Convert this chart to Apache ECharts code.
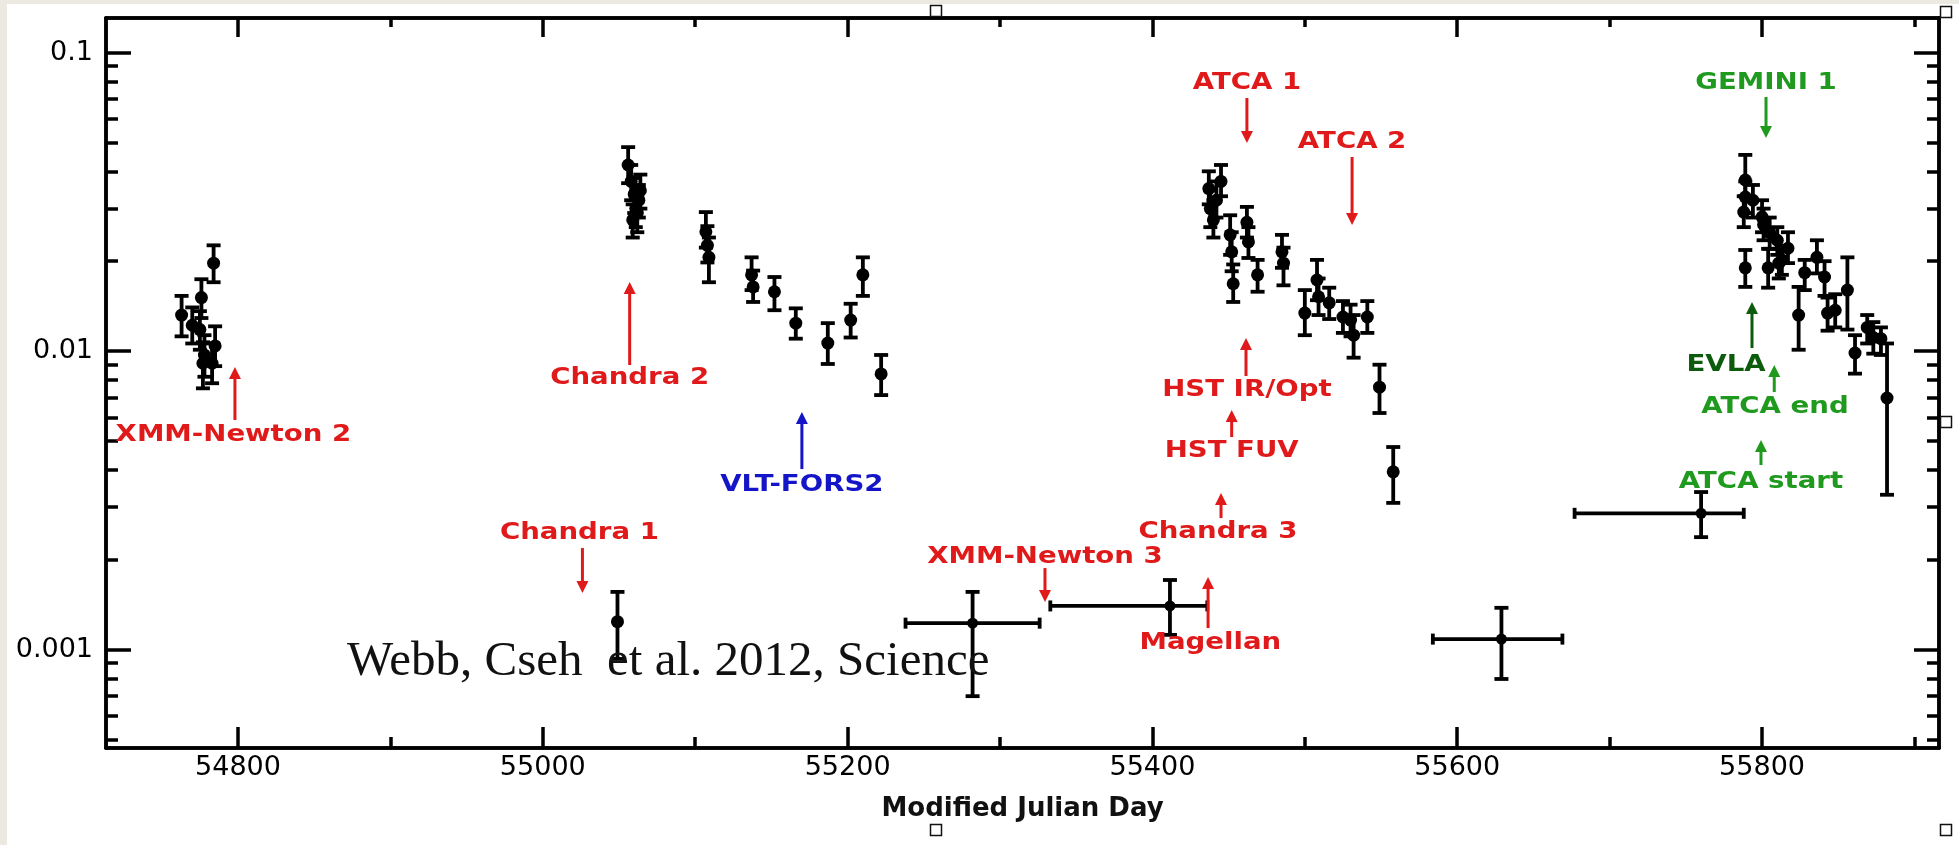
<!DOCTYPE html>
<html>
<head>
<meta charset="utf-8">
<script src="https://cdn.jsdelivr.net/npm/echarts@6/dist/echarts.min.js"></script>
<style>
  html, body { margin: 0; padding: 0; background: #ffffff; }
  #chart { width: 1959px; height: 845px; }
</style>
</head>
<body>
<div id="chart"></div>
<script>
// HLX-1 light curve: X-ray flux against Modified Julian Day.

// Individual observations (day, flux, lower and upper error bounds)
const obsDay = [
  54763, 54770, 54775, 54776, 54778, 54777, 54783, 54785, 54784,
  55049,
  55056, 55058, 55060, 55061, 55062, 55059, 55063, 55064,
  55107, 55108, 55109, 55137, 55138, 55152, 55166, 55187, 55202, 55210, 55222,
  55437, 55438, 55440, 55442, 55445, 55451, 55452, 55453, 55462, 55463, 55469,
  55485, 55486, 55500, 55508, 55509, 55516, 55525, 55530, 55532, 55541, 55549, 55558,
  55789, 55789, 55788, 55789, 55794, 55800, 55801, 55804, 55805, 55810, 55811, 55813,
  55817, 55824, 55828, 55836, 55841, 55843, 55848, 55856, 55861, 55869, 55873, 55878, 55882
];
const obsFlux = [
  0.0132, 0.0122, 0.0118, 0.0151, 0.0097, 0.0091, 0.0091, 0.0104, 0.0197,
  0.00124,
  0.0420, 0.0370, 0.0335, 0.0300, 0.0290, 0.0275, 0.0320, 0.0345,
  0.0251, 0.0226, 0.0206, 0.0180, 0.0164, 0.0158, 0.0124, 0.01063, 0.0127, 0.0180, 0.00838,
  0.0350, 0.0300, 0.0275, 0.0320, 0.0370, 0.0245, 0.0215, 0.0168, 0.0270, 0.0232, 0.0180,
  0.0215, 0.0197, 0.0134, 0.0173, 0.0152, 0.0145, 0.0130, 0.0127, 0.0113, 0.0130, 0.00757, 0.00394,
  0.0374, 0.0328, 0.0292, 0.0190, 0.0320, 0.0281, 0.0265, 0.0190, 0.0249, 0.0235, 0.0197, 0.0202,
  0.0221, 0.0132, 0.0183, 0.0206, 0.0177, 0.0134, 0.0137, 0.0160, 0.00985, 0.0120, 0.0111, 0.0110, 0.00696
];
const obsFluxLow = [
  0.0112, 0.0106, 0.0101, 0.0129, 0.0082, 0.0075, 0.0078, 0.0089, 0.0170,
  0.00093,
  0.0365, 0.0320, 0.0290, 0.0260, 0.0250, 0.0240, 0.0280, 0.0300,
  0.0222, 0.0198, 0.0170, 0.0160, 0.0146, 0.0137, 0.0110, 0.00905, 0.0111, 0.0153, 0.00712,
  0.0310, 0.0260, 0.0240, 0.0280, 0.0330, 0.0210, 0.0185, 0.0146, 0.0240, 0.0205, 0.0158,
  0.0190, 0.0166, 0.0113, 0.0148, 0.0132, 0.0128, 0.0115, 0.0112, 0.0095, 0.0115, 0.0062, 0.0031,
  0.0330, 0.0290, 0.0260, 0.0164, 0.0280, 0.0250, 0.0235, 0.0163, 0.0220, 0.0210, 0.0175, 0.0180,
  0.0197, 0.0101, 0.0160, 0.0182, 0.0153, 0.0117, 0.0120, 0.0118, 0.0084, 0.0106, 0.0098, 0.0097, 0.0033
];
const obsFluxHigh = [
  0.0153, 0.0140, 0.0136, 0.0174, 0.0113, 0.0107, 0.0106, 0.0121, 0.0226,
  0.00156,
  0.0482, 0.0420, 0.0380, 0.0340, 0.0330, 0.0310, 0.0360, 0.0390,
  0.0292, 0.0262, 0.0240, 0.0206, 0.0186, 0.0177, 0.0139, 0.0124, 0.0144, 0.0206, 0.0097,
  0.0400, 0.0345, 0.0320, 0.0370, 0.0420, 0.0285, 0.0250, 0.0195, 0.0304, 0.0260, 0.0202,
  0.0245, 0.0222, 0.0160, 0.0202, 0.0175, 0.0163, 0.0147, 0.0143, 0.0132, 0.0147, 0.0090, 0.00477,
  0.0454, 0.0370, 0.0330, 0.0218, 0.0360, 0.0320, 0.0300, 0.0220, 0.0280, 0.0260, 0.0220, 0.0225,
  0.0250, 0.0164, 0.0202, 0.0235, 0.0200, 0.0151, 0.0155, 0.0206, 0.0113, 0.0132, 0.0125, 0.0120, 0.0106
];

// Stacked observations spanning several days
const stackDay      = [55282, 55411.5, 55629, 55760];
const stackDayStart = [55238, 55333, 55584, 55677];
const stackDayEnd   = [55326, 55436, 55669, 55788];
const stackFlux     = [0.001226, 0.00140, 0.001084, 0.00286];
const stackFluxLow  = [0.000698, 0.00112, 0.000797, 0.00238];
const stackFluxHigh = [0.00156, 0.00171, 0.00138, 0.00337];

// Follow-up campaigns marked with arrows
const eventNames = [
  'XMM-Newton 2', 'Chandra 1', 'Chandra 2', 'VLT-FORS2', 'XMM-Newton 3', 'Magellan',
  'Chandra 3', 'HST FUV', 'HST IR/Opt', 'ATCA 1', 'ATCA 2',
  'GEMINI 1', 'EVLA', 'ATCA end', 'ATCA start'
];
const eventKind = [
  'xray', 'xray', 'xray', 'optical', 'xray', 'xray',
  'xray', 'xray', 'xray', 'xray', 'xray',
  'late', 'vla', 'late', 'late'
];
const eventDay = [
  54798, 55026, 55057, 55170, 55329.5, 55436.5,
  55445, 55452, 55461.4, 55462, 55531,
  55802.6, 55793.4, 55808, 55799.3
];
const eventTailFlux = [
  0.005873, 0.002188, 0.008977, 0.004024, 0.001875, 0.001180,
  0.002757, 0.005151, 0.008246, 0.07041, 0.04466,
  0.07095, 0.01023, 0.007288, 0.004150
];
const eventTipFlux = [
  0.008841, 0.001546, 0.01703, 0.006245, 0.001442, 0.001749,
  0.003344, 0.006342, 0.01105, 0.04973, 0.02643,
  0.05169, 0.01460, 0.008977, 0.005031
];
const eventLabelDay = [
  54797, 55024, 55057, 55170, 55329.5, 55438,
  55443, 55452, 55462, 55462, 55531,
  55802.6, 55776.4, 55808.5, 55799.3
];
const eventLabelFlux = [
  0.005232, 0.002458, 0.008120, 0.003557, 0.002041, 0.001051,
  0.002475, 0.004624, 0.007401, 0.07903, 0.05013,
  0.07903, 0.008977, 0.006494, 0.003640
];

// Axis ticks
const dayLabels = [54800, 55000, 55200, 55400, 55600, 55800];
const dayMinorTicks = [54900, 55100, 55300, 55500, 55700, 55900];
const fluxLabels = [0.001, 0.01, 0.1];

const DAY_MIN = 54713.4, DAY_MAX = 55916.1;
const FLUX_MIN = 0.000468, FLUX_MAX = 0.1305;

const lg = Math.log10;
const Y_MIN = lg(FLUX_MIN), Y_MAX = lg(FLUX_MAX);

const fluxMajorLogs = fluxLabels.map(lg);
const fluxMinorLogs = [];
for (let e = -4; e <= -1; e++) {
  for (let m = 2; m <= 9; m++) {
    const v = lg(m * Math.pow(10, e));
    if (v > Y_MIN && v < Y_MAX) fluxMinorLogs.push(v);
  }
}

const kindColor = { xray: '#e01a1a', optical: '#1414c8', late: '#1f9a1f', vla: '#0d5c0d' };

const obsRows = obsDay.map((d, i) => [d, lg(obsFlux[i]), lg(obsFluxLow[i]), lg(obsFluxHigh[i])]);
const stackRows = stackDay.map((d, i) => [d, lg(stackFlux[i]), lg(stackFluxLow[i]), lg(stackFluxHigh[i])]);
const stackSpanRows = stackDay.map((d, i) => [d, lg(stackFlux[i]), stackDayStart[i], stackDayEnd[i]]);
const eventRows = eventNames.map((n, i) => [eventDay[i], lg(eventTailFlux[i]), lg(eventTipFlux[i]),
  eventLabelDay[i], lg(eventLabelFlux[i]), i]);

const BAR = { stroke: '#000', lineWidth: 3.8 };

function verticalErrorBar(params, api) {
  const d = api.value(0);
  const top = api.coord([d, api.value(3)]);
  const bot = api.coord([d, api.value(2)]);
  const cap = 7;
  return {
    type: 'group',
    children: [
      { type: 'line', shape: { x1: top[0], y1: top[1], x2: bot[0], y2: bot[1] }, style: BAR },
      { type: 'line', shape: { x1: top[0] - cap, y1: top[1], x2: top[0] + cap, y2: top[1] }, style: BAR },
      { type: 'line', shape: { x1: bot[0] - cap, y1: bot[1], x2: bot[0] + cap, y2: bot[1] }, style: BAR }
    ]
  };
}

function horizontalErrorBar(params, api) {
  const y = api.value(1);
  const left = api.coord([api.value(2), y]);
  const right = api.coord([api.value(3), y]);
  const cap = 5.5;
  return {
    type: 'group',
    children: [
      { type: 'line', shape: { x1: left[0], y1: left[1], x2: right[0], y2: right[1] }, style: BAR },
      { type: 'line', shape: { x1: left[0], y1: left[1] - cap, x2: left[0], y2: left[1] + cap }, style: BAR },
      { type: 'line', shape: { x1: right[0], y1: right[1] - cap, x2: right[0], y2: right[1] + cap }, style: BAR }
    ]
  };
}

function eventArrow(params, api) {
  const i = api.value(5);
  const color = kindColor[eventKind[i]];
  const tail = api.coord([api.value(0), api.value(1)]);
  const tip = api.coord([api.value(0), api.value(2)]);
  const lab = api.coord([api.value(3), api.value(4)]);
  const dir = tip[1] > tail[1] ? 1 : -1;
  const headLen = 12, headHalf = 6;
  return {
    type: 'group',
    children: [
      { type: 'line',
        shape: { x1: tail[0], y1: tail[1], x2: tip[0], y2: tip[1] - dir * headLen * 0.7 },
        style: { stroke: color, lineWidth: 3 } },
      { type: 'polygon',
        shape: { points: [[tip[0], tip[1]], [tip[0] - headHalf, tip[1] - dir * headLen], [tip[0] + headHalf, tip[1] - dir * headLen]] },
        style: { fill: color } },
      { type: 'text', x: lab[0], y: lab[1], scaleX: 1.2,
        style: { text: eventNames[i], x: 0, y: 0, fill: color,
                 font: 'bold 23px "DejaVu Sans"', align: 'center', verticalAlign: 'middle' } }
    ]
  };
}

const AXIS_LINE = { lineStyle: { color: '#000', width: 3.5 } };
const TICK_STYLE = { color: '#000', width: 3.5 };
const LABEL_FONT = { fontFamily: '"DejaVu Sans"', fontSize: 27, color: '#000' };

function xAxisDef(position, ticks, length, withLabels) {
  const ax = {
    type: 'value', gridIndex: 0, position: position, min: DAY_MIN, max: DAY_MAX,
    axisLine: AXIS_LINE,
    axisTick: { show: true, inside: true, length: length, customValues: ticks, lineStyle: TICK_STYLE },
    axisLabel: { show: false },
    splitLine: { show: false }, minorTick: { show: false }
  };
  if (withLabels) {
    ax.axisLabel = Object.assign({ show: true, customValues: dayLabels, margin: 6,
      formatter: v => String(v) }, LABEL_FONT);
    ax.name = 'Modified Julian Day';
    ax.nameLocation = 'middle';
    ax.nameGap = 48;
    ax.nameTextStyle = { fontFamily: '"DejaVu Sans"', fontWeight: 'bold', fontSize: 26, color: '#111' };
  }
  return ax;
}

function yAxisDef(position, ticks, length, withLabels) {
  const ax = {
    type: 'value', gridIndex: 0, position: position, min: Y_MIN, max: Y_MAX,
    axisLine: AXIS_LINE,
    axisTick: { show: true, inside: true, length: length, customValues: ticks, lineStyle: TICK_STYLE },
    axisLabel: { show: false },
    splitLine: { show: false }, minorTick: { show: false }
  };
  if (withLabels) {
    ax.axisLabel = Object.assign({ show: true, customValues: ticks, margin: 13,
      formatter: v => String(Number(Math.pow(10, v).toPrecision(1))) }, LABEL_FONT);
  }
  return ax;
}

const chart = echarts.init(document.getElementById('chart'), null, { renderer: 'canvas' });

chart.setOption({
  backgroundColor: '#ffffff',
  animation: false,
  grid: { left: 106, right: 20, top: 18, bottom: 97, containLabel: false, outerBoundsMode: 'none' },
  xAxis: [
    xAxisDef('bottom', dayLabels, 21, true),
    xAxisDef('bottom', dayMinorTicks, 11, false),
    xAxisDef('top', dayLabels, 19, false),
    xAxisDef('top', dayMinorTicks, 9, false)
  ],
  yAxis: [
    yAxisDef('left', fluxMajorLogs, 25, true),
    yAxisDef('left', fluxMinorLogs, 12, false),
    yAxisDef('right', fluxMajorLogs, 25, false),
    yAxisDef('right', fluxMinorLogs, 12, false)
  ],
  graphic: [
    { type: 'rect', left: 0, top: 0, shape: { width: 7, height: 845 }, style: { fill: '#ece9e1' }, z: -10 },
    { type: 'rect', left: 0, top: 0, shape: { width: 1959, height: 4 }, style: { fill: '#ece9e1' }, z: -10 },
    { type: 'text', left: 347, top: 638,
      style: { text: 'Webb, Cseh  et al. 2012, Science', fill: '#111',
               font: '49px "Liberation Serif"' }, z: 50 },
    { type: 'rect', shape: { x: 930.5, y: 5.5, width: 11, height: 11 }, style: { fill: '#fff', stroke: '#111', lineWidth: 1.5 }, z: 60 },
    { type: 'rect', shape: { x: 1940.5, y: 6.5, width: 11, height: 11 }, style: { fill: '#fff', stroke: '#111', lineWidth: 1.5 }, z: 60 },
    { type: 'rect', shape: { x: 1940.5, y: 416.5, width: 11, height: 11 }, style: { fill: '#fff', stroke: '#111', lineWidth: 1.5 }, z: 60 },
    { type: 'rect', shape: { x: 930.5, y: 824.5, width: 11, height: 11 }, style: { fill: '#fff', stroke: '#111', lineWidth: 1.5 }, z: 60 },
    { type: 'rect', shape: { x: 1940.5, y: 824.5, width: 11, height: 11 }, style: { fill: '#fff', stroke: '#111', lineWidth: 1.5 }, z: 60 }
  ],
  series: [
    { name: 'error', type: 'custom', xAxisIndex: 0, yAxisIndex: 0, silent: true,
      data: obsRows.concat(stackRows), encode: { x: 0, y: 1 }, renderItem: verticalErrorBar, z: 3 },
    { name: 'span', type: 'custom', xAxisIndex: 0, yAxisIndex: 0, silent: true,
      data: stackSpanRows, encode: { x: 0, y: 1 }, renderItem: horizontalErrorBar, z: 3 },
    { name: 'flux', type: 'scatter', xAxisIndex: 0, yAxisIndex: 0, silent: true,
      data: obsRows.map(r => [r[0], r[1]]), symbol: 'circle', symbolSize: 13,
      itemStyle: { color: '#000', opacity: 1 }, z: 4 },
    { name: 'stacked', type: 'scatter', xAxisIndex: 0, yAxisIndex: 0, silent: true,
      data: stackRows.map(r => [r[0], r[1]]), symbol: 'circle', symbolSize: 11,
      itemStyle: { color: '#000', opacity: 1 }, z: 4 },
    { name: 'events', type: 'custom', xAxisIndex: 0, yAxisIndex: 0, silent: true, clip: false,
      data: eventRows, encode: { x: 0, y: 1 }, renderItem: eventArrow, z: 5 }
  ]
});
</script>
</body>
</html>
